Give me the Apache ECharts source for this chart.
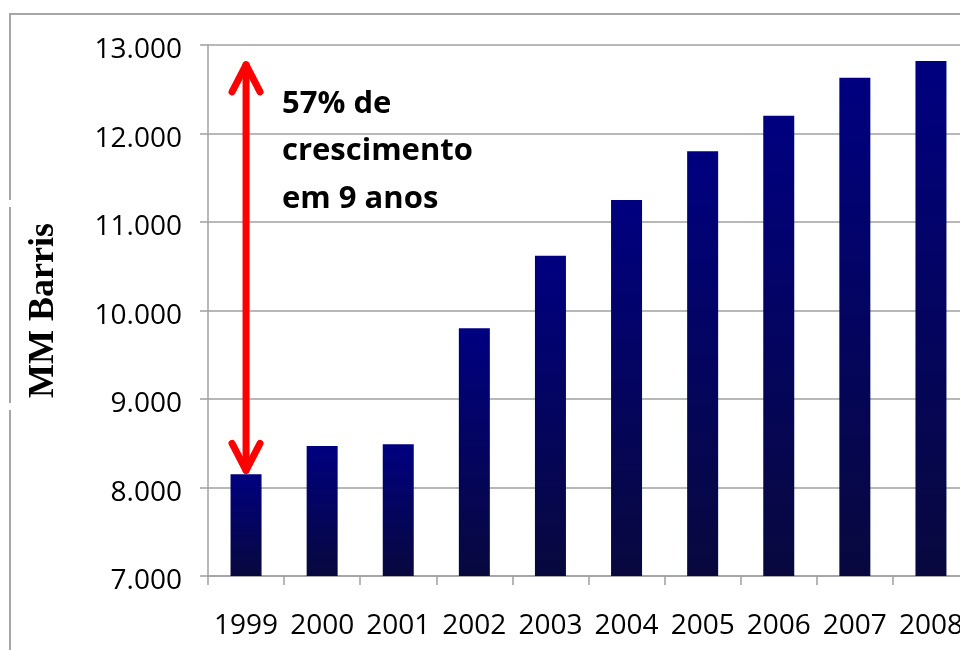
<!DOCTYPE html>
<html>
<head>
<meta charset="utf-8">
<script src="https://cdn.jsdelivr.net/npm/echarts@6/dist/echarts.min.js"></script>
<style>
html,body{margin:0;padding:0;background:#fff;}
#chart{width:960px;height:650px;}
</style>
</head>
<body>
<div id="chart"></div>
<script>
// ---- data ----
var years = ['1999','2000','2001','2002','2003','2004','2005','2006','2007','2008'];
var production = [8150, 8470, 8490, 9800, 10620, 11250, 11800, 12200, 12630, 12820];
var yMin = 7000, yMax = 13000, yStep = 1000;
var yAxisTitle = 'MM Barris';
var annotationLines = ['57% de', 'crescimento', 'em 9 anos'];
var arrowCategory = 0;          // index of 1999
var arrowBottom = 8160;
var arrowTop = 12810;

function fmt(v){
  return String(v).replace(/\B(?=(\d{3})+(?!\d))/g, '.');
}

var chart = echarts.init(document.getElementById('chart'), null, {renderer:'canvas'});

var gridColor = '#a0a0a0';

var option = {
  animation: false,
  backgroundColor: '#ffffff',
  grid: { left: 208, top: 45, bottom: 74, right: -9, containLabel: false, outerBoundsMode: 'none' },
  xAxis: {
    type: 'category',
    data: years,
    axisLine: { show: true, lineStyle: { color: gridColor, width: 1.5 } },
    axisTick: { show: true, length: 9, lineStyle: { color: gridColor, width: 1.5 } },
    axisLabel: { color: '#000', fontFamily: 'Open Sans', fontSize: 28, margin: 36, interval: 0, hideOverlap: false }
  },
  yAxis: {
    type: 'value',
    min: yMin, max: yMax, interval: yStep,
    name: yAxisTitle,
    nameLocation: 'middle',
    nameRotate: 90,
    nameGap: 146,
    nameTextStyle: { fontFamily: 'Liberation Serif', fontWeight: 'bold', fontSize: 36, color: '#000' },
    axisLine: { show: true, lineStyle: { color: gridColor, width: 1.5 } },
    axisTick: { show: true, length: 8, lineStyle: { color: gridColor, width: 1.5 } },
    splitLine: { show: true, lineStyle: { color: gridColor, width: 1.5 } },
    axisLabel: {
      color: '#000', fontFamily: 'Open Sans', fontSize: 28, margin: 26,
      verticalAlign: 'top', lineHeight: 11,
      formatter: function(v){ return fmt(v); }
    }
  },
  series: [
    {
      type: 'bar',
      data: production,
      barWidth: 31,
      itemStyle: {
        color: new echarts.graphic.LinearGradient(0, 0, 0, 1, [
          { offset: 0, color: '#000080' },
          { offset: 1, color: '#08083e' }
        ])
      }
    },
    {
      type: 'custom',
      z: 10,
      silent: true,
      data: [[arrowCategory, arrowBottom, arrowTop]],
      renderItem: function(params, api){
        var top = api.coord([api.value(0), api.value(2)]);
        var bot = api.coord([api.value(0), api.value(1)]);
        var hw = 14, hh = 30;
        var style = { stroke: '#ff0000', lineWidth: 7, lineCap: 'round', lineJoin: 'round', fill: null };
        return {
          type: 'group',
          children: [
            { type: 'line', shape: { x1: top[0], y1: top[1] + 3, x2: bot[0], y2: bot[1] - 3 }, style: style },
            { type: 'polyline', shape: { points: [[top[0]-hw, top[1]+hh], [top[0], top[1]+3], [top[0]+hw, top[1]+hh]] }, style: style },
            { type: 'polyline', shape: { points: [[bot[0]-hw, bot[1]-hh], [bot[0], bot[1]-3], [bot[0]+hw, bot[1]-hh]] }, style: style }
          ]
        };
      }
    }
  ],
  graphic: [
    { type: 'line', shape: { x1: 9, y1: 14, x2: 960, y2: 14 }, style: { stroke: '#a6a6a6', lineWidth: 2 } },
    { type: 'line', shape: { x1: 10, y1: 14, x2: 10, y2: 200 }, style: { stroke: '#a6a6a6', lineWidth: 2 } },
    { type: 'line', shape: { x1: 10, y1: 207, x2: 10, y2: 403 }, style: { stroke: '#a6a6a6', lineWidth: 2 } },
    { type: 'line', shape: { x1: 10, y1: 410, x2: 10, y2: 650 }, style: { stroke: '#a6a6a6', lineWidth: 2 } },
    {
      type: 'text', left: 282, top: 80, z: 20,
      style: {
        text: annotationLines.join('\n'),
        fontFamily: 'Open Sans', fontWeight: 'bold', fontSize: 31,
        lineHeight: 47.5, fill: '#000'
      }
    }
  ]
};

chart.setOption(option);
</script>
</body>
</html>
